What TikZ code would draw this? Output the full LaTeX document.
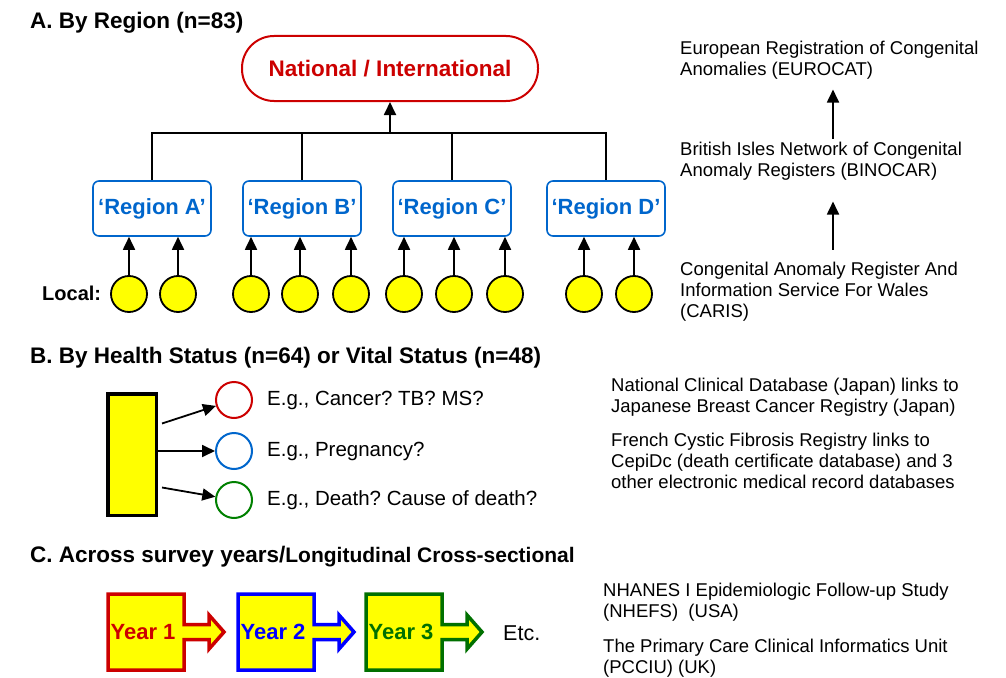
\documentclass[tikz,border=0pt]{standalone}
\usepackage{fontspec}
\setmainfont{Liberation Sans}
\usetikzlibrary{arrows.meta,calc}
\definecolor{cred}{RGB}{204,0,0}
\definecolor{cblue}{RGB}{0,102,204}
\definecolor{pblue}{RGB}{0,0,255}
\definecolor{cgreen}{RGB}{0,128,0}
\definecolor{dgreen}{RGB}{0,112,0}
\definecolor{cyellow}{RGB}{255,255,0}
\newcommand\yearshape[4]{%
  \draw[draw=#2, fill=cyellow, line width=3.5pt, line join=miter]
    (#1+2,594) -- (#1+78,594) -- (#1+78,624.5) -- (#1+103,624.5) -- (#1+103,615)
    -- (#1+118,632) -- (#1+103,649) -- (#1+103,639.5) -- (#1+78,639.5)
    -- (#1+78,670) -- (#1+2,670) -- cycle;
  \node[yearlabel, text=#2] (#4) at (#1+37,632) {#3};
}
\frenchspacing
\begin{document}
\begin{tikzpicture}[x=1pt,y=-1pt,
  title/.style={anchor=base west, inner sep=0, font=\fontsize{22.5}{26}\selectfont\bfseries},
  note/.style={anchor=base west, inner sep=0, align=left, font=\fontsize{18.5}{21}\selectfont},
  eg/.style={anchor=west, inner sep=0, font=\fontsize{20.5}{24}\selectfont},
  regionbox/.style={draw=cblue, line width=1.6pt, rounded corners=6pt, minimum width=118pt,
    minimum height=55pt, text=cblue, inner sep=0, font=\fontsize{22}{26}\selectfont\bfseries},
  localc/.style={circle, draw=black, fill=cyellow, line width=1.8pt, minimum size=36pt, inner sep=0},
  statc/.style={circle, line width=2pt, minimum size=36pt, inner sep=0},
  conn/.style={line width=1.8pt},
  arr/.style={-{Triangle[length=13pt,width=12pt]}, line width=1.8pt},
  yearlabel/.style={inner sep=0, font=\fontsize{22}{26}\selectfont\bfseries}
]
\useasboundingbox (0,0) rectangle (1006,677);

% ---------- A ----------
\node[title] (tA) at (30,28.5) {A. By Region (n=83)};
\node[draw=cred, line width=2pt, rounded corners=32pt, minimum width=296pt, minimum height=65pt,
  text=cred, inner sep=0, font=\fontsize{22.5}{26}\selectfont\bfseries] (nat) at (390,68.5) {National / International};
\coordinate (hb) at (390,133);

\node[regionbox] (rA) at (152,208.5) {‘Region A’};
\node[regionbox] (rB) at (302,208.5) {‘Region B’};
\node[regionbox] (rC) at (452,208.5) {‘Region C’};
\node[regionbox] (rD) at (606,208.5) {‘Region D’};

\draw[conn] (rA.north) |- (hb) -| (rD.north);
\draw[conn] (rB.north) -- (rB.north |- hb);
\draw[conn] (rC.north) -- (rC.north |- hb);
\draw[arr] (hb) -- (nat.south);

\node[anchor=west, inner sep=0, font=\fontsize{20}{24}\selectfont\bfseries] (loc) at (42,293) {Local:};
\foreach \i/\x/\r in {1/129/rA,2/178/rA,3/251/rB,4/300/rB,5/351/rB,6/404/rC,7/454/rC,8/505/rC,9/584/rD,10/634/rD}{
  \node[localc] (l\i) at (\x,294) {};
  \draw[arr] (l\i.north) -- (l\i.north |- \r.south);
}

\node[note] (eu) at (680,75.5) {European Registration of Congenital\\Anomalies (EUROCAT)};
\node[note] (bin) at (680,176.5) {British Isles Network of Congenital\\Anomaly Registers (BINOCAR)};
\node[note] (car) at (680,317.5) {Congenital Anomaly Register And\\Information Service For Wales\\(CARIS)};
\coordinate (ax) at (833,0);
\draw[arr] ([yshift=3pt]bin.north -| ax) -- ([yshift=-10pt]eu.south -| ax);
\draw[arr] ([yshift=12pt]car.north -| ax) -- ([yshift=-21pt]bin.south -| ax);

% ---------- B ----------
\node[title] (tB) at (30,363) {B. By Health Status (n=64) or Vital Status (n=48)};
\node[draw=black, fill=cyellow, line width=3.5pt, minimum width=48.5pt, minimum height=121.5pt, inner sep=0] (rect) at (132,454.5) {};
\node[statc, draw=cred] (c1) at (234,400) {};
\node[statc, draw=cblue] (c2) at (234,451) {};
\node[statc, draw=cgreen] (c3) at (234,500) {};
\draw[arr] ($(rect.east)+(4,-31)$) -- (c1);
\draw[arr] (rect.east |- c2) -- (c2);
\draw[arr] ($(rect.east)+(4,33)$) -- (c3);
\node[eg] (e1) at (267,400) {E.g., Cancer? TB? MS?};
\node[eg] (e2) at (267,451) {E.g., Pregnancy?};
\node[eg] (e3) at (267,500) {E.g., Death? Cause of death?};

\node[note] (jp) at (611,412.5) {National Clinical Database (Japan) links to\\Japanese Breast Cancer Registry (Japan)};
\node[note] (fr) at (611,488.5) {French Cystic Fibrosis Registry links to\\CepiDc (death certificate database) and 3\\other electronic medical record databases};

% ---------- C ----------
\node[title] (tC) at (30,562) {C. Across survey years/{\fontsize{21}{24}\selectfont Longitudinal Cross-sectional}};
\yearshape{106}{cred}{Year 1}{y1}
\yearshape{236}{pblue}{Year 2}{y2}
\yearshape{364}{dgreen}{Year 3}{y3}
\node[anchor=west, inner sep=0, font=\fontsize{21.5}{25}\selectfont] (etc) at (503,633) {Etc.};

\node[note] (nh) at (603,617.5) {NHANES I Epidemiologic Follow-up Study\\(NHEFS)~~(USA)};
\node[note] (pc) at (603,673.5) {The Primary Care Clinical Informatics Unit\\(PCCIU) (UK)};
\end{tikzpicture}
\end{document}
